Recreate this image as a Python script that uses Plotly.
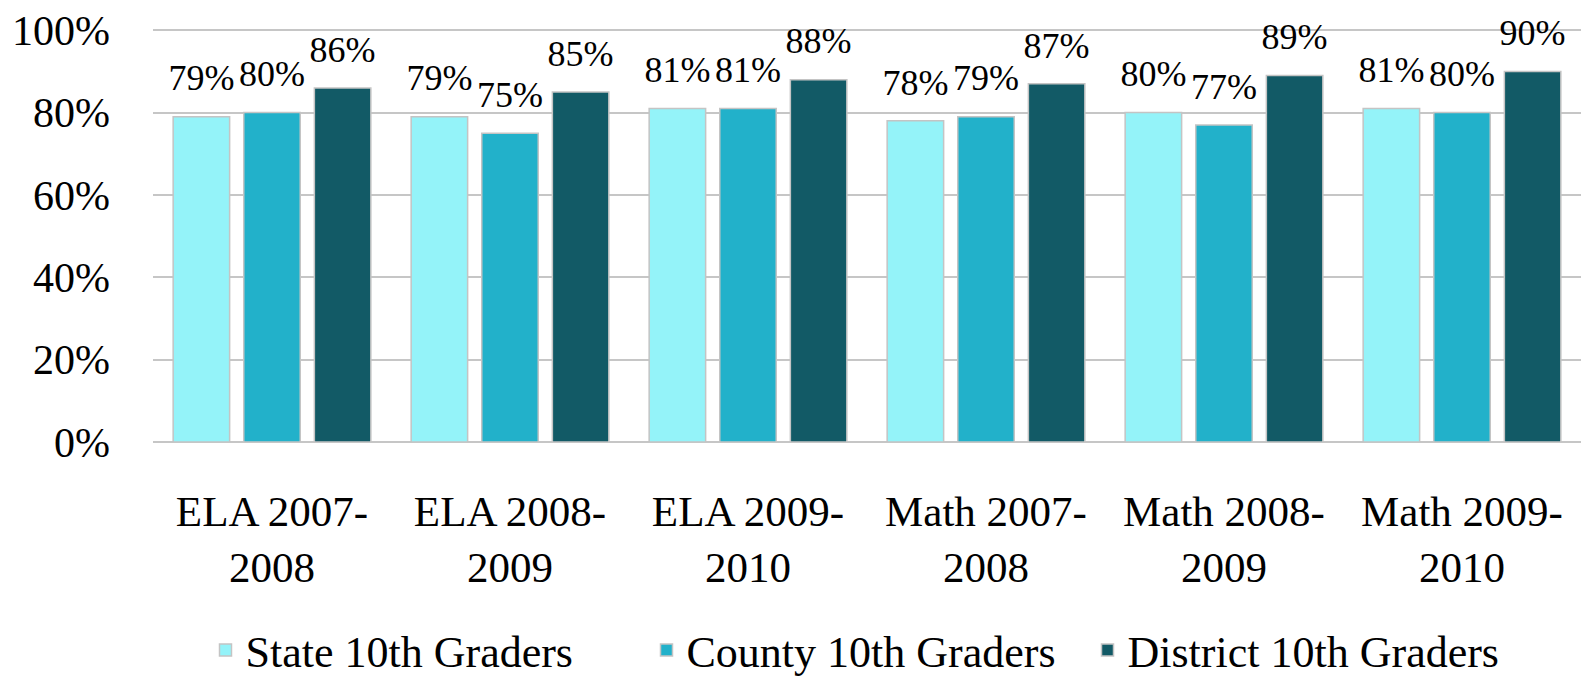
import plotly.graph_objects as go

categories = ["ELA 2007-<br>2008", "ELA 2008-<br>2009", "ELA 2009-<br>2010",
              "Math 2007-<br>2008", "Math 2008-<br>2009", "Math 2009-<br>2010"]
state = [0.79, 0.79, 0.81, 0.78, 0.80, 0.81]
county = [0.80, 0.75, 0.81, 0.79, 0.77, 0.80]
district = [0.86, 0.85, 0.88, 0.87, 0.89, 0.90]

series_names = ["State 10th Graders", "County 10th Graders", "District 10th Graders"]
colors = ["#94f3f9", "#22b1ca", "#125a66"]

FONT = "Liberation Serif"

fig = go.Figure()

for name, vals, col in zip(series_names, [state, county, district], colors):
    fig.add_trace(go.Bar(
        x=categories, y=vals, name=name,
        marker=dict(color=col, line=dict(color="#c4c4c4", width=1.5)),
        offsetgroup=name, alignmentgroup="bars",
        hoverinfo="skip",
    ))

# value labels sitting above each bar
for name, vals in zip(series_names, [state, county, district]):
    fig.add_trace(go.Scatter(
        x=categories, y=vals, mode="markers+text",
        text=[f"{v:.0%}" for v in vals],
        textposition="top center",
        textfont=dict(family=FONT, size=36, color="black"),
        marker=dict(size=26, color="rgba(0,0,0,0)"),
        offsetgroup=name, alignmentgroup="labels",
        showlegend=False, cliponaxis=False,
        hoverinfo="skip",
    ))

fig.update_layout(
    width=1581, height=686,
    margin=dict(l=153, r=0, t=29, b=244),
    paper_bgcolor="white", plot_bgcolor="white",
    barmode="group", bargap=0.11, bargroupgap=0.2,
    scattermode="group", scattergap=0.11,
    font=dict(family=FONT, size=42, color="black"),
    showlegend=True,
    legend=dict(orientation="h", x=0.5, xanchor="center",
                yref="container", y=-0.007, yanchor="bottom",
                font=dict(family=FONT, size=44), traceorder="normal",
                entrywidth=396, entrywidthmode="pixels"),
)
# a hair of headroom so the 100% gridline is not dropped at the plot edge
fig.update_yaxes(range=[0, 1.003], tickvals=[0, 0.2, 0.4, 0.6, 0.8, 1.0], tickformat=".0%",
                 showgrid=True, gridcolor="#c6c6c6", gridwidth=2,
                 zeroline=True, zerolinecolor="#c6c6c6", zerolinewidth=2,
                 showline=False, ticklabelstandoff=42, automargin=False)
fig.update_xaxes(showgrid=False, showline=False, ticks="", ticklabelstandoff=40,
                 tickfont=dict(size=43), automargin=False)

# the page body has a default 8px margin; drop it so the figure sits at the corner
fig.write_html("out.html", config={"displayModeBar": False},
               post_script="document.body.style.margin='0';")
